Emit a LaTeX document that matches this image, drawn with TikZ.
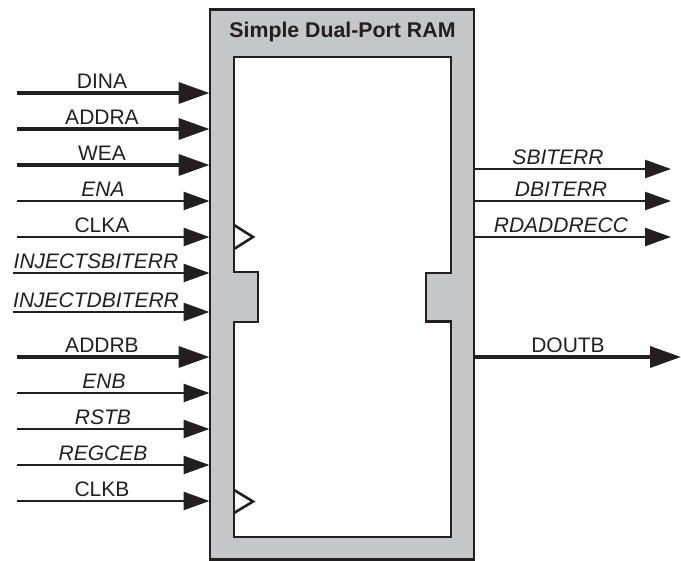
\documentclass[tikz,border=0pt]{standalone}
\usepackage{fontspec}
\setmainfont{Liberation Sans}
\usetikzlibrary{arrows.meta}
\definecolor{ink}{HTML}{231F20}
\definecolor{blockgrey}{HTML}{C4C6C8}
\tikzset{
  lbl/.style={anchor=base,inner sep=0pt,text=ink,font=\fontsize{21}{24}\selectfont},
  ilbl/.style={lbl,font=\fontsize{21}{24}\selectfont\itshape},
  thickpin/.style={draw=ink,line width=3.6pt,-{Triangle[length=31pt,width=21pt,fill=ink]}},
  thinpin/.style={draw=ink,line width=2.6pt,-{Triangle[length=26pt,width=18pt,fill=ink]}},
  outline/.style={draw=ink,line width=2.6pt,line join=miter},
}
\begin{document}
\begin{tikzpicture}[x=1pt,y=-1pt]
\useasboundingbox (0,0) rectangle (681,561);
\node[outline,fill=blockgrey,inner sep=0pt,outer sep=0pt,minimum width=264pt,minimum height=550pt,anchor=north west] (block) at (210,9.5) {};
\draw[outline,fill=white] (234,57) -- (451,57) -- (451,273) -- (426,273) -- (426,321.5) -- (451,321.5) -- (451,537) -- (234,537) -- (234,322) -- (258,322) -- (258,272) -- (234,272) -- cycle;
\draw[outline] (234,225) -- (253,237) -- (234,249);
\draw[outline] (234,490) -- (253,501.5) -- (234,513);
\node[font=\fontsize{21.3}{25}\selectfont\bfseries,text=ink,inner sep=0pt,anchor=base] (title) at (342.5,38) {Simple Dual-Port RAM};
\foreach \nm/\yy/\xs/\xl/\sty/\lsty/\txt in {
  DINA/93/17/102/thickpin/lbl/DINA,
  ADDRA/129/17/102/thickpin/lbl/ADDRA,
  WEA/165/17/102/thickpin/lbl/WEA,
  ENA/201/17/103/thinpin/ilbl/ENA,
  CLKA/237/17/102/thinpin/lbl/CLKA,
  INJS/273/13/96/thinpin/ilbl/INJECTSBITERR,
  INJD/312/13/96/thinpin/ilbl/INJECTDBITERR,
  ADDRB/357/17/102/thickpin/lbl/ADDRB,
  ENB/393/17/104/thinpin/ilbl/ENB,
  RSTB/429/17/103/thinpin/ilbl/RSTB,
  REGCEB/465/17/103/thinpin/ilbl/REGCEB,
  CLKB/501/17/102/thinpin/lbl/CLKB}{
  \coordinate (src\nm) at (\xs,\yy);
  \draw[\sty,shorten >=0.5pt] (src\nm) -- (block.west |- src\nm);
  \node[\lsty] (l\nm) at (\xl,\yy-4) {\txt};
}
\foreach \nm/\yy/\xe/\xl/\sty/\lsty/\txt in {
  SBITERR/169/671/558/thinpin/ilbl/SBITERR,
  DBITERR/201/671/561/thinpin/ilbl/DBITERR,
  RDADDRECC/237/671/561/thinpin/ilbl/RDADDRECC,
  DOUTB/357/681/568/thickpin/lbl/DOUTB}{
  \coordinate (dst\nm) at (\xe,\yy);
  \draw[\sty] (block.east |- dst\nm) -- (dst\nm);
  \node[\lsty] (l\nm) at (\xl,\yy-4) {\txt};
}
\end{tikzpicture}
\end{document}
